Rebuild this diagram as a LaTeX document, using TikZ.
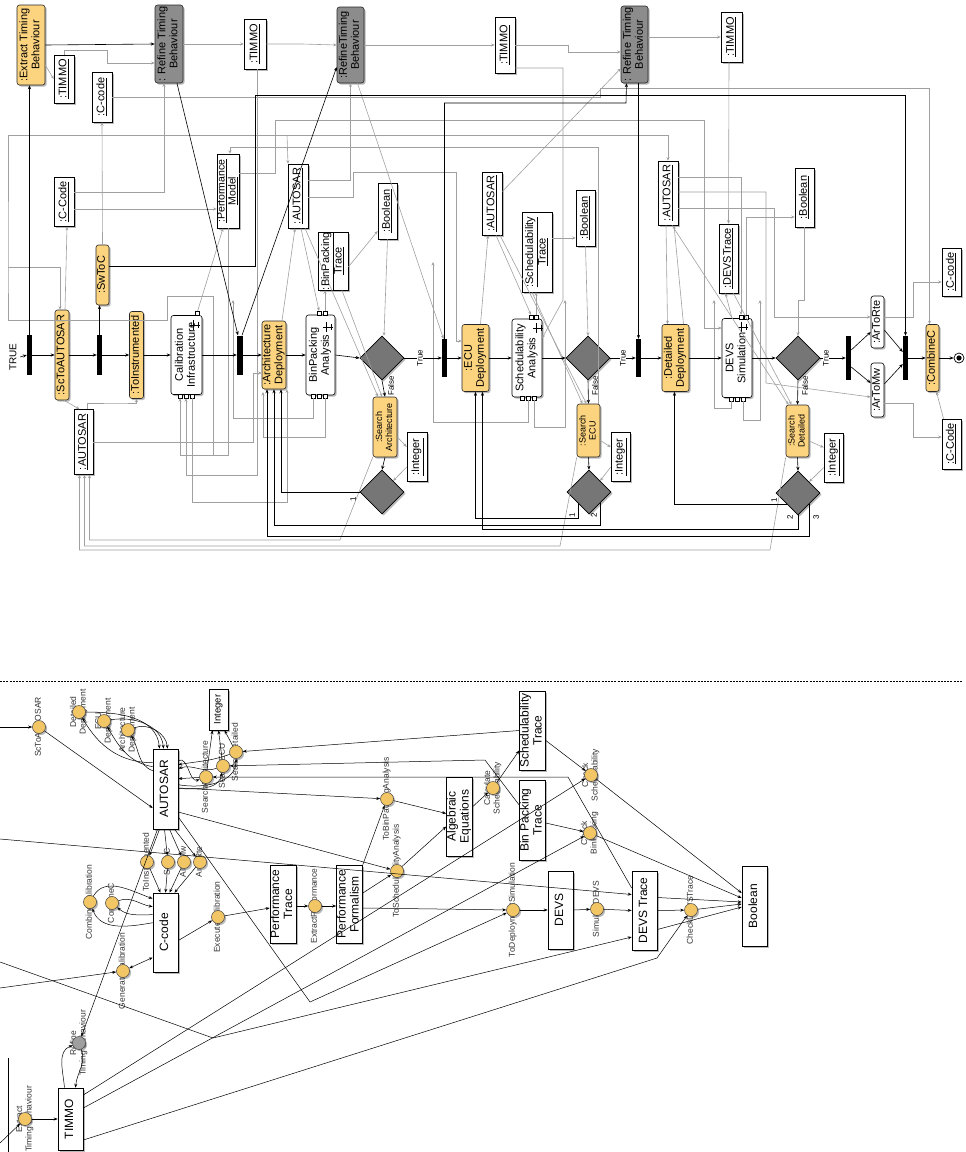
\documentclass[tikz,border=0pt]{standalone}
\usepackage{fontspec}
\setmainfont{Liberation Sans}
\usepackage{graphicx}
\usetikzlibrary{shapes.geometric,arrows.meta,shadows}
\newcommand{\rt}[1]{\rotatebox{90}{\begin{tabular}{@{}c@{}}#1\end{tabular}}}
\newcommand{\ul}[1]{\underline{#1}}
\definecolor{actcol}{RGB}{252,212,128}
\definecolor{refcol}{RGB}{140,140,140}
\definecolor{deccol}{RGB}{118,118,118}
\definecolor{grl}{RGB}{160,160,160}
\definecolor{circcol}{RGB}{242,198,100}
\tikzset{
 sz/.style 2 args={minimum width=#1pt, minimum height=#2pt},
 shad/.style={drop shadow={shadow xshift=1.6pt, shadow yshift=-1.6pt, opacity=0.28, fill=black}},
 base/.style={inner sep=0pt, line width=0.6pt, font=\fontsize{11}{12}\selectfont, shad},
 act/.style={base, draw=black!85, fill=actcol, rounded corners=2.5pt},
 refb/.style={base, draw=black!85, fill=refcol, rounded corners=2.5pt},
 obj/.style={base, draw=black, fill=white},
 cact/.style={base, draw=black, fill=white, rounded corners=2.5pt},
 barst/.style={fill=black, draw=none, inner sep=0pt},
 dec/.style={diamond, draw=black, fill=deccol, inner sep=0pt, minimum width=44pt, minimum height=44pt, line width=0.6pt, shad},
 ctrl/.style={draw=black, line width=0.6pt, -{Stealth[length=4pt,width=3.2pt]}},
 gry/.style={draw=grl, line width=0.6pt, -{Stealth[length=3.5pt,width=3pt]}},
 gryn/.style={draw=grl, line width=0.6pt},
 lbl/.style={inner sep=0.5pt, font=\fontsize{8}{9}\selectfont},
 pinbox/.style={draw=black, fill=white, minimum size=4pt, inner sep=0pt, line width=0.4pt},
 bbox/.style={inner sep=0pt, line width=0.6pt, draw=black, fill=white, font=\fontsize{12}{13}\selectfont, shad},
 cir/.style={circle, draw=black!75, fill=circcol, minimum size=13pt, inner sep=0pt, line width=0.5pt, shad},
 clab/.style={inner sep=0pt, font=\fontsize{8.5}{9.3}\selectfont, text=black!80},
 bl/.style={draw=black, line width=0.5pt, -{Stealth[length=4pt,width=3pt]}},
 blb/.style={draw=black, line width=0.5pt, {Stealth[length=4pt,width=3pt]}-{Stealth[length=4pt,width=3pt]}},
}
\newcommand{\cnode}[4]{\node[clab] (#1l) at (#2,#3) {\rt{#4}};\node[cir] (#1) at (#2,#3) {};}
\newcommand{\rake}[2]{\draw[line width=0.6pt] (#1-5,#2) -- (#1+5,#2) (#1-2,#2-5) -- (#1-2,#2+5) (#1+3,#2-3) -- (#1+3,#2+3);}
\begin{document}
\begin{tikzpicture}[x=1pt,y=-1pt]
\useasboundingbox (0,0) rectangle (966,1152);

% ================= TOP: activity diagram =================
\node[lbl,font=\fontsize{10}{10}\selectfont] (ttrue) at (13,357) {\rotatebox{90}{TRUE}};
\node[barst,sz={5}{40}] (bar1) at (29.5,355) {};
\node[act,sz={28}{80}] (etb) at (31,45) {\rt{:Extract Timing\\Behaviour}};
\node[obj,sz={20}{48}] (timmo1) at (64,79) {\rt{\ul{:TIMMO}}};
\node[obj,sz={20}{50}] (ccode1) at (102,97) {\rt{\ul{:C-code}}};
\node[refb,sz={28}{78}] (ref1) at (169,44) {\rt{: Refine Timing\\Behaviour}};
\node[obj,sz={22}{50}] (timmo2) at (255,44) {\rt{\ul{:TIMMO}}};
\node[obj,sz={20}{49}] (ccode2) at (64,202) {\rt{\ul{:C-Code}}};
\node[obj,sz={21}{74},font=\fontsize{10.5}{11}\selectfont] (perf) at (228,191) {\rt{\ul{:Performance}\\\ul{Model}}};
\node[obj,sz={20}{64}] (autosar1) at (298,196) {\rt{\ul{:AUTOSAR}}};
\node[act,sz={13}{60}] (swtoc) at (102.5,275) {\rt{:SwToC}};
\node[act,sz={14}{90}] (sc) at (62,355) {\rt{:ScToAUTOSAR}};
\node[barst,sz={5}{40}] (bar2) at (99.5,355) {};
\node[act,sz={14}{87}] (toinst) at (136.5,355) {\rt{:ToInstrumented}};
\node[cact,sz={31}{79}] (calib) at (186.5,355) {\rt{Calibration\\Infrastructure}};
\node[barst,sz={6}{39}] (bar3) at (240,355) {};
\node[act,sz={24}{68}] (archd) at (274,355) {\rt{:Architecture\\Deployment}};
\node[cact,sz={29}{80}] (binpa) at (320.5,355) {\rt{BinPacking\\Analysis}};
\node[obj,sz={30}{58}] (binpt) at (333,261) {\rt{\ul{:BinPacking}\\\ul{Trace}}};
\node[obj,sz={19}{65}] (autosar0) at (83.5,442) {\rt{\ul{:AUTOSAR}}};
\node[obj,sz={19}{56}] (bool1) at (387.5,211) {\rt{\ul{:Boolean}}};
\node[dec] (d1) at (382,358) {};
\node[act,sz={24}{60},font=\fontsize{9}{10}\selectfont] (searcha) at (385,427) {\rt{:Search\\Architecture}};
\node[obj,sz={20}{49}] (int1) at (417,457) {\rt{\ul{:Integer}}};
\node[dec] (d2) at (382,492) {};
\node[refb,sz={27}{76}] (ref2) at (350.5,45) {\rt{:RefineTiming\\Behaviour}};
\node[obj,sz={20}{56}] (timmo3) at (505,45) {\rt{\ul{:TIMMO}}};
\node[refb,sz={27}{77}] (ref3) at (634.5,44.5) {\rt{: Refine Timing\\Behaviour}};
\node[obj,sz={21}{50}] (timmo4) at (731.5,37) {\rt{\ul{:TIMMO}}};
\node[barst,sz={5}{38}] (bar4) at (444.5,358) {};
\node[act,sz={27}{67}] (ecud) at (475.5,358) {\rt{:ECU\\Deployment}};
\node[cact,sz={30}{78}] (schea) at (527,358) {\rt{Schedulability\\Analysis}};
\node[obj,sz={30}{80}] (schet) at (537,252) {\rt{\ul{:Schedulability}\\\ul{Trace}}};
\node[obj,sz={20}{63}] (autosar2) at (492,203.5) {\rt{\ul{:AUTOSAR}}};
\node[obj,sz={19}{56}] (bool2) at (585.5,218) {\rt{\ul{:Boolean}}};
\node[dec] (d3) at (588,358) {};
\node[barst,sz={5}{38}] (bar5) at (638.5,358) {};
\node[act,sz={23}{53},font=\fontsize{9}{10}\selectfont] (searche) at (588.5,430.5) {\rt{:Search\\ECU}};
\node[obj,sz={19}{49}] (int2) at (620.5,457) {\rt{\ul{:Integer}}};
\node[dec] (d4) at (589,492) {};
\node[obj,sz={20}{64}] (autosar3) at (668,193) {\rt{\ul{:AUTOSAR}}};
\node[obj,sz={19}{59}] (bool3) at (804.5,197.5) {\rt{\ul{:Boolean}}};
\node[obj,sz={19}{69}] (devst) at (728.5,258.5) {\rt{\ul{:DEVSTrace}}};
\node[act,sz={27}{67}] (detd) at (675.5,358) {\rt{:Detailed\\Deployment}};
\node[cact,sz={30}{79}] (devss) at (737,358) {\rt{DEVS\\Simulation}};
\node[dec] (d5) at (798,358) {};
\node[act,sz={23}{52},font=\fontsize{9}{10}\selectfont] (searchd) at (797.5,431) {\rt{:Search\\Detailed}};
\node[obj,sz={19}{49}] (int3) at (833.5,457.5) {\rt{\ul{:Integer}}};
\node[dec] (d6) at (798,493) {};
\node[barst,sz={5}{44}] (bar6) at (848.5,358) {};
\node[cact,sz={13}{52}] (artorte) at (877.5,322) {\rt{:ArToRte}};
\node[cact,sz={13}{54}] (artomw) at (877.5,390) {\rt{:ArToMw}};
\node[barst,sz={5}{44}] (bar7) at (905.5,358) {};
\node[act,sz={13}{67}] (combc) at (932.5,358) {\rt{:CombineC}};
\node[circle,draw=black,line width=0.7pt,minimum size=10pt,inner sep=0pt] (fin) at (959,358) {};
\fill[black] (fin.center) circle (2.6pt);
\node[obj,sz={19}{48}] (ccode3) at (951.5,272) {\rt{\ul{:C-code}}};
\node[obj,sz={19}{50}] (ccode4) at (951.5,444) {\rt{\ul{:C-Code}}};

% pins
\node[pinbox] (pc1) at (180,396) {};
\node[pinbox] (pc2) at (186,396) {};
\node[pinbox] (pc3) at (192,396) {};
\node[pinbox] (pc4) at (197,313) {};
\node[pinbox] (pb1) at (313,396) {};
\node[pinbox] (pb2) at (319,396) {};
\node[pinbox] (pb5) at (325,396) {};
\node[pinbox] (pb3) at (319,313) {};
\node[pinbox] (pb4) at (325,313) {};
\node[pinbox] (ps4) at (522,398) {};
\node[pinbox] (ps5) at (528,398) {};
\node[pinbox] (ps6) at (534,398) {};
\node[pinbox] (ps1) at (531,317) {};
\node[pinbox] (ps2) at (536,317) {};
\node[pinbox] (pd3) at (731,399) {};
\node[pinbox] (pd4) at (737,399) {};
\node[pinbox] (pd5) at (743,399) {};
\node[pinbox] (pd1) at (741,317) {};
\node[pinbox] (pd2) at (746,317) {};
\rake{195}{325}
\rake{328}{327}
\rake{538}{328}
\rake{743}{327}

% ---- gray object flows ----
\coordinate (lft1) at (8,135);
\coordinate (lft2) at (8,267);
\draw[gry] ([yshift=-20pt]etb.east) -- (timmo1.west);
\draw[gry] (timmo1.north) |- (107,50) |- ([yshift=-19pt]ref1.west);
\draw[gry] (ref1.east) -- (timmo2.west);
\draw[gry] (timmo2.east) -- (302,44) -- (ref2.west);
\draw[gry] (ref2.east) -- (timmo3.west);
\draw[gry] (timmo3.east) -- (568,45) |- ([yshift=-7.5pt]ref3.west);
\draw[gry] ([yshift=7.5pt]ref3.east) -- (timmo4.west);
\draw[gry] ([yshift=10pt]ccode2.east) -| ([xshift=-5pt]ref1.south);
\draw[gry] ([yshift=-7pt]ccode2.east) -- ([yshift=-18pt]perf.west);
\draw[gry] ([xshift=3pt]sc.north) -- ([xshift=3pt]ccode2.south);
\draw[gry] (lft2) -| ([xshift=-2pt]sc.north);
\draw[gry] (swtoc.north) -- (ccode1.south);
\draw[gry] (ccode1.east) -- (600,97) -- (600,88) -| ([xshift=-3pt]combc.north);
\draw[gry] ([xshift=2pt]sc.south) -- ([xshift=-4pt]autosar0.north);
\draw[gry] ([xshift=4pt]autosar0.north) |- (120,403) -| (toinst.south);
\draw[gry] (autosar0.east) -| (253,373) -- ([yshift=-18pt]archd.west);
\draw[gry] (pc4) -- ([xshift=-5pt]perf.south);
\draw[gry] (searcha.south west) -- (340,540) -| ([xshift=6pt]autosar0.south);
\draw[gry] (searche.south west) -- (560,546) -| ([xshift=1pt]autosar0.south);
\draw[gry] (searchd.south west) -- (770,550) -| ([xshift=-4pt]autosar0.south);
\draw[gry] (perf.south) -- (228,455) -| (pc1.south);
\draw[gry] ([xshift=2pt]timmo2.south) -- (257,475) -| (pc2.south);
\draw[gry] (pc3.south) |- (287,502) -- ([xshift=13pt]archd.south);
\draw[gryn] (lft1) -- (lft2) |- (167,320) |- (213,296) -- (213,455);
\draw[gry] (lft1) -| (autosar3.north);
\draw[gry] (287,135) -- ([xshift=-10pt]autosar1.north);
\draw[gry] (pb4) -- ([xshift=-8pt]binpt.south);
\draw[gry] ([yshift=-6pt]binpt.east) -- ([yshift=-20pt]bool1.west);
\draw[gry] (bool1.south) -- ([xshift=2pt]d1.north);
\draw[gry] ([xshift=8pt]archd.north) -- ([xshift=-3pt]autosar1.south);
\draw[gry] ([xshift=3pt]autosar1.south) -- (pb3.north);
\draw[gry] ([yshift=16pt]autosar1.east) -| ([xshift=0pt]ref2.south);
\draw[gry] ([yshift=-1pt]autosar1.east) -- (353,197) -- (353,172) -| (456,341) -- ([yshift=17pt]ecud.west);
\draw[gry] ([xshift=7pt]autosar1.south) -- ([xshift=-7pt]searcha.north);
\draw[gry] ([xshift=9pt]binpt.south) -- ([xshift=-3pt]searcha.north);
\draw[gry] ([yshift=-10pt]searcha.east) -- ([yshift=10pt]int1.west);
\draw[gry] ([yshift=-10pt]int1.west) -- (d2.north east);
\draw[gry] ([yshift=-10pt]searche.east) -- ([yshift=10pt]int2.west);
\draw[gry] ([yshift=-10pt]int2.west) -- (d4.north east);
\draw[gry] ([yshift=-10pt]searchd.east) -- ([yshift=10pt]int3.west);
\draw[gry] ([yshift=-10pt]int3.west) -- (d6.north east);
\draw[gry] ([xshift=7pt]ref2.south) -- ([xshift=-1pt]bar4.north);
\draw[gry] ([yshift=12pt]autosar2.east) -- ([yshift=-24pt]ref3.west);
\draw[gry] ([xshift=5pt]ecud.north) -- ([xshift=-4pt]autosar2.south);
\draw[gry] ([xshift=4pt]autosar2.south) -- (ps1.north);
\draw[gry] (ps2.north) -- ([xshift=-1pt]schet.south);
\draw[gry] ([yshift=14pt]schet.east) -- ([yshift=-20pt]bool2.west);
\draw[gry] (bool2.south) -- (d3.north);
\draw[gry] ([yshift=-23pt]timmo3.east) -| (563,300) -- ([yshift=20pt]schea.east);
\draw[gry] ([xshift=-5pt]schet.south) -- ([xshift=-6pt]searche.north);
\draw[gry] ([xshift=8pt]autosar2.south) -- ([xshift=-2pt]searche.north);
\draw[gry] ([xshift=10pt]searche.north) -- (598.5,147) -| ([xshift=2pt]perf.north);
\draw[gry] ([yshift=18pt]perf.east) -| (275,120) -| (704,328) -- ([yshift=30pt]devss.west);
\draw[gry] (ps5.south) |- (433,422) -- (433,262);
\draw[gry] (ps6.south) |- (565,427) -- (565,300);
\draw[gry] (pb1.south) |- (233,418) -- (233,300);
\draw[gry] (pb5.south) |- (263,437) -- (263,392);
\draw[gry] ([xshift=-2pt]autosar3.south) -- ([xshift=-8pt]detd.north);
\draw[gry] ([xshift=8pt]detd.north) -- ([xshift=6pt]autosar3.south);
\draw[gry] ([yshift=16pt]autosar3.east) -| (pd1.north);
\draw[gry] ([yshift=1pt]autosar3.east) -| (766,383) -- ([yshift=-7pt]artomw.west);
\draw[gry] ([yshift=-15pt]autosar3.east) -| (774,317) -- ([yshift=5pt]artorte.west);
\draw[gry] (pd2.north) |- ([yshift=-19.5pt]bool3.west);
\draw[gry] ([xshift=-5pt]devss.north) -- ([xshift=-3pt]devst.south);
\draw[gry] (bool3.south) |- (798,300) -- (d5.north);
\draw[gry] ([xshift=-2.5pt]timmo4.south) -- (devst.north);
\draw[gry] ([xshift=5pt]devst.south) -- ([xshift=-6pt]searchd.north);
\draw[gry] ([xshift=4pt]autosar3.south) -- ([xshift=-9pt]searchd.north);
\draw[gry] (pd3.south) |- (714,408) -- (714,300);
\draw[gry] (pd5.south) |- (760,420) -- (760,300);
\draw[gry] ([yshift=-13pt]artomw.east) -- (913,403) -- (913,437) -- ([yshift=7pt]ccode4.west);
\draw[gry] ([yshift=5pt]artorte.east) -- (913,317) -- (913,282) -- ([yshift=-10pt]ccode3.west);
\draw[gry] ([xshift=-8pt]ccode4.north) -- ([xshift=4pt]combc.south);

% ---- control flow ----
\draw[ctrl] ([xshift=3pt]ttrue.east) -- (bar1.west);
\draw[ctrl] (bar1.east) -- (sc.west);
\draw[ctrl] (bar1.north) -- (bar1.north |- etb.south);
\draw[ctrl] (etb.east) -- (ref1.west);
\draw[ctrl] (sc.east) -- (bar2.west);
\draw[ctrl] (bar2.north) -- (bar2.north |- swtoc.south);
\draw[ctrl] (bar2.east) -- (toinst.west);
\draw[ctrl] (toinst.east) -- (calib.west);
\draw[ctrl] (calib.east) -- (bar3.west);
\draw[ctrl] ([yshift=9pt]swtoc.east) -| (255,95) -| (bar7.north);
\draw[ctrl] ([xshift=8pt]ref1.south) -- ([xshift=-2pt]bar3.north);
\draw[ctrl] ([xshift=2pt]bar3.north) -- ([yshift=-22pt]ref2.west);
\draw[ctrl] (bar3.east) -- (archd.west);
\draw[ctrl] (archd.east) -- (binpa.west);
\draw[ctrl] (binpa.east) -- (d1.west);
\draw[ctrl] (d1.east) -- (bar4.west);
\draw[ctrl] (d1.south) -- (searcha.north);
\draw[ctrl] (searcha.south) -- (d2.north);
\draw[ctrl] (d2.west) -| ([xshift=7pt]archd.south);
\draw[ctrl] (bar4.east) -- (ecud.west);
\draw[ctrl] (bar4.north) |- (626,103) -- ([xshift=-8pt]ref3.south);
\draw[ctrl] (ecud.east) -- (schea.west);
\draw[ctrl] (schea.east) -- (d3.west);
\draw[ctrl] (d3.east) -- (bar5.west);
\draw[ctrl] (d3.south) -- (searche.north);
\draw[ctrl] (searche.south) -- (d4.north);
\draw[ctrl] (d4.south west) -- +(0,15) -| (ecud.south);
\draw[ctrl] (d4.south east) -- +(0,22) -| (archd.south);
\draw[ctrl] (bar5.north |- ref3.south) -- (bar5.north);
\draw[ctrl] (bar5.east) -- (detd.west);
\draw[ctrl] (detd.east) -- (devss.west);
\draw[ctrl] (devss.east) -- (d5.west);
\draw[ctrl] (d5.east) -- (bar6.west);
\draw[ctrl] (d5.south) -- (searchd.north);
\draw[ctrl] (searchd.south) -- (d6.north);
\draw[ctrl] (d6.south west) -| ([xshift=-1pt]detd.south);
\draw[ctrl] (d6.south) -- +(0,14) -| ([xshift=7pt]ecud.south);
\draw[ctrl] (d6.south east) -- +(0,32) -| ([xshift=-7pt]archd.south);
\draw[ctrl] ([yshift=8pt]bar6.east) -- ([yshift=-10pt]artorte.west);
\draw[ctrl] ([yshift=-9pt]bar6.east) -- ([yshift=7pt]artomw.west);
\draw[ctrl] ([yshift=-8pt]artorte.east) -- ([yshift=6pt]bar7.west);
\draw[ctrl] ([yshift=6pt]artomw.east) -- ([yshift=-6pt]bar7.west);
\draw[ctrl] (bar7.east) -- (combc.west);
\draw[ctrl] (combc.east) -- (fin.west);

% guard labels
\node[lbl,fill=white] (tt1) at (420,358) {\rotatebox{90}{True}};
\node[lbl,fill=white] (tt2) at (623,358) {\rotatebox{90}{True}};
\node[lbl,fill=white] (tt3) at (826,358) {\rotatebox{90}{True}};
\node[lbl] (ff1) at (391,386) {\rotatebox{90}{False}};
\node[lbl] (ff2) at (595,386) {\rotatebox{90}{False}};
\node[lbl] (ff3) at (805,386) {\rotatebox{90}{False}};
\node[lbl] (na1) at (353,499) {\rotatebox{90}{1}};
\node[lbl] (nb1) at (572,515) {\rotatebox{90}{1}};
\node[lbl] (nb2) at (594,515) {\rotatebox{90}{2}};
\node[lbl] (nc1) at (774,500) {\rotatebox{90}{1}};
\node[lbl] (nc2) at (790,517) {\rotatebox{90}{2}};
\node[lbl] (nc3) at (816,517) {\rotatebox{90}{3}};

% separator
\draw[line width=0.6pt, dash pattern=on 2pt off 1.2pt] (0,681) -- (962,681);

% ================= BOTTOM =================
\node[bbox,sz={25}{80}] (bAUT) at (165.5,789) {\rt{AUTOSAR}};
\node[bbox,sz={19}{41},font=\fontsize{9.5}{10}\selectfont] (bInt) at (218.5,709.5) {\rt{Integer}};
\node[bbox,sz={25}{79}] (bCC) at (165.5,932.5) {\rt{C-code}};
\node[bbox,sz={24}{78}] (bPT) at (283,904) {\rt{Performance\\Trace}};
\node[bbox,sz={25}{78}] (bPF) at (349.5,904) {\rt{Performance\\Formalism}};
\node[bbox,sz={25}{79}] (bAE) at (459.5,816.5) {\rt{Algebraic\\Equations}};
\node[bbox,sz={25}{79}] (bST) at (532.5,730.5) {\rt{Schedulability\\Trace}};
\node[bbox,sz={25}{80}] (bBPT) at (532.5,820) {\rt{Bin Packing\\Trace}};
\node[bbox,sz={25}{78}] (bDEVS) at (560.5,910) {\rt{DEVS}};
\node[bbox,sz={25}{79}] (bDT) at (644.5,910.5) {\rt{DEVS Trace}};
\node[bbox,sz={25}{80}] (bBool) at (754.5,906) {\rt{Boolean}};
\node[bbox,sz={25}{62}] (bTIMMO) at (70.5,1119) {\rt{TIMMO}};
\draw[line width=0.6pt] (8,1058) -- (8,1152);

\cnode{cSc}{39}{727}{ScToAUTOSAR}
\cnode{cDD}{79}{712}{Detailed\\Deployment}
\cnode{cED}{104}{721}{ECU\\Deployment}
\cnode{cAD}{128}{730}{Architecture\\Deployment}
\cnode{cSD}{236}{752}{SearchDetailed}
\cnode{cSE}{223}{766}{SearchECU}
\cnode{cSA}{206}{777}{SearchArchitecture}
\cnode{cTI}{147}{862}{ToInstrumented}
\cnode{cSW}{168}{862}{SwToC}
\cnode{cAM}{184}{862}{ArToMw}
\cnode{cAR}{200}{862}{ArToRte}
\cnode{cCCal}{90}{902}{CombineCalibration}
\cnode{cCC}{112}{903}{CombineC}
\cnode{cGC}{123}{971}{GenerateCalibration}
\cnode{cEC}{218}{917}{ExecuteCalibration}
\cnode{cEP}{315}{906}{ExtractPerformance}
\cnode{cET}{25}{1119}{Extract\\Timing Behaviour}
\cnode{cTB}{387}{799}{ToBinPackingAnalysis}
\cnode{cTS}{397}{871}{ToSchedulabilityAnalysis}
\cnode{cCS}{493}{788}{Calculate\\Schedulability}
\cnode{cChS}{591}{775}{Check\\Schedulability}
\cnode{cChB}{590}{833}{Check\\BinPacking}
\cnode{cTD}{513}{910}{ToDeploymentSimulation}
\cnode{cSim}{597}{909}{SimulateDEVS}
\cnode{cChD}{691}{910}{CheckDEVSTrace}
\node[clab] (cRTl) at (79,1043) {\rt{Refine\\Timing Behaviour}};
\node[cir,fill=gray!75] (cRT) at (79,1043) {};

\coordinate (inSc) at (0,727);
\coordinate (inDT1) at (0,839);
\coordinate (inDT2) at (0,962);
\coordinate (inGC) at (0,988);
\coordinate (inET) at (0,1143);

\draw[bl] (inSc) -- (cSc);
\draw[bl] (cSc) -- ([yshift=-19pt]bAUT.west);
\draw[bl] (cDD) to[out=0,in=95] ([xshift=-6pt]bAUT.north);
\draw[bl] (cED) to[out=10,in=95] ([xshift=-2pt]bAUT.north);
\draw[bl] (cAD) to[out=20,in=95] ([xshift=2pt]bAUT.north);
\draw[bl] ([yshift=-14pt]bAUT.north west) to[out=180,in=-60] (cDD);
\draw[bl] ([yshift=-18pt]bAUT.north west) to[out=170,in=-60] (cED);
\draw[bl] ([yshift=-22pt]bAUT.north west) to[out=160,in=-60] (cAD);
\draw[bl] ([yshift=-12pt]bAUT.north east) to[out=30,in=200] (cSA);
\draw[bl] (cSA) -- ([yshift=-30pt]bAUT.north east);
\draw[bl] (cSE) to[out=200,in=20] ([yshift=-20pt]bAUT.north east);
\draw[bl] ([yshift=-40pt]bAUT.north east) to[out=0,in=-100] (cSE);
\draw[bl] (cSD) to[out=200,in=10] ([yshift=-16pt]bAUT.north east);
\draw[bl] ([yshift=-36pt]bAUT.north east) to[out=-10,in=-90] (cSD);
\draw[bl] (cSA) -- ([xshift=-6pt]bInt.south);
\draw[bl] (cSE) -- (bInt.south);
\draw[bl] (cSD) -- ([xshift=6pt]bInt.south);
\draw[bl] (bST.west) -- (cSD);
\draw[bl] ([yshift=15pt]bBPT.west) -- (485,760) -- (cSE);
\draw[bl] ([yshift=22.5pt]bDT.west) -- (568,777) -- (cSA);
\draw[bl] ([yshift=1pt]bAUT.east) -- (cTB);
\draw[bl] ([yshift=-23pt]bAUT.east) -- (cTS);
\draw[bl] ([yshift=-28pt]bAUT.east) -- (310,1002) -- (cTD);
\draw[bl] ([xshift=-6pt]bAUT.south) -- (cTI);
\draw[bl] ([xshift=-1pt]bAUT.south) -- (cSW);
\draw[bl] ([xshift=4pt]bAUT.south) -- (cAM);
\draw[bl] ([xshift=9pt]bAUT.south) -- (cAR);
\draw[bl] ([xshift=-8pt]bAUT.south) -- (cRT);
\draw[bl] (cTI) -- ([xshift=-5pt]bCC.north);
\draw[bl] (cSW) -- ([xshift=0pt]bCC.north);
\draw[bl] (cAM) -- ([xshift=4pt]bCC.north);
\draw[bl] (cAR) -- ([xshift=9pt]bCC.north);
\draw[bl] (cCCal) to[out=60,in=160] ([yshift=-6pt]bCC.north west);
\draw[bl] ([yshift=-30pt]bCC.north west) to[out=190,in=-70] (cCCal);
\draw[bl] (cCC) to[out=20,in=170] ([yshift=-14pt]bCC.north west);
\draw[bl] ([yshift=-22pt]bCC.north west) to[out=180,in=-40] (cCC);
\draw[bl] ([yshift=-8pt]bCC.east) -- (cEC);
\draw[bl] (cEC) -- ([yshift=-4pt]bPT.west);
\draw[bl] ([yshift=-2pt]bPT.east) -- (cEP);
\draw[bl] (cEP) -- ([yshift=-2pt]bPF.west);
\draw[blb] ([yshift=-25pt]bCC.west) -- (cGC);
\draw[bl] (inGC) -- (cGC);
\draw[bl] (inDT1) -- ([yshift=16pt]bDT.west);
\draw[bl] (inDT2) -- (213,1038) -- ([yshift=-26.5pt]bDT.west);
\draw[bl] (inET) -- (cET);
\draw[bl] (cET) -- (bTIMMO.west);
\draw[bl] ([xshift=-6pt]bTIMMO.north) to[out=95,in=200] (cRT);
\draw[bl] (cRT) to[out=-70,in=85] ([xshift=5pt]bTIMMO.north);
\draw[bl] ([yshift=24pt]bTIMMO.east) -- (cChS);
\draw[bl] ([yshift=11pt]bTIMMO.east) -- (cChB);
\draw[bl] ([yshift=-21pt]bTIMMO.east) -- (657,958) -- (cChD);
\draw[bl] (bPF.north east) -- (cTB);
\draw[bl] ([yshift=11pt]bPF.east) -- (cTS);
\draw[bl] ([yshift=-4pt]bPF.east) -- (cTD);
\draw[bl] (cTB) -- ([yshift=3pt]bAE.west);
\draw[bl] (cTS) -- ([yshift=-10pt]bAE.west);
\draw[bl] ([yshift=10pt]bAE.east) -- (cCS);
\draw[bl] (cCS) -- ([yshift=-20pt]bST.west);
\draw[bl] ([yshift=-10pt]bST.east) -- (cChS);
\draw[bl] ([yshift=-3pt]bBPT.east) -- (cChB);
\draw[bl] (cChS) -- ([yshift=13pt]bBool.west);
\draw[bl] (cChB) -- ([yshift=8pt]bBool.west);
\draw[bl] (cTD) -- (bDEVS.west);
\draw[bl] (bDEVS.east) -- (cSim);
\draw[bl] (cSim) -- (bDT.west);
\draw[bl] (bDT.east) -- (cChD);
\draw[bl] (cChD) -- ([yshift=2pt]bBool.west);
\draw[bl] ([yshift=13pt]bDT.east) -- ([yshift=4pt]bBool.west);
\draw[bl] ([yshift=-19pt]bDT.east) -- ([yshift=-1pt]bBool.west);
\end{tikzpicture}
\end{document}
